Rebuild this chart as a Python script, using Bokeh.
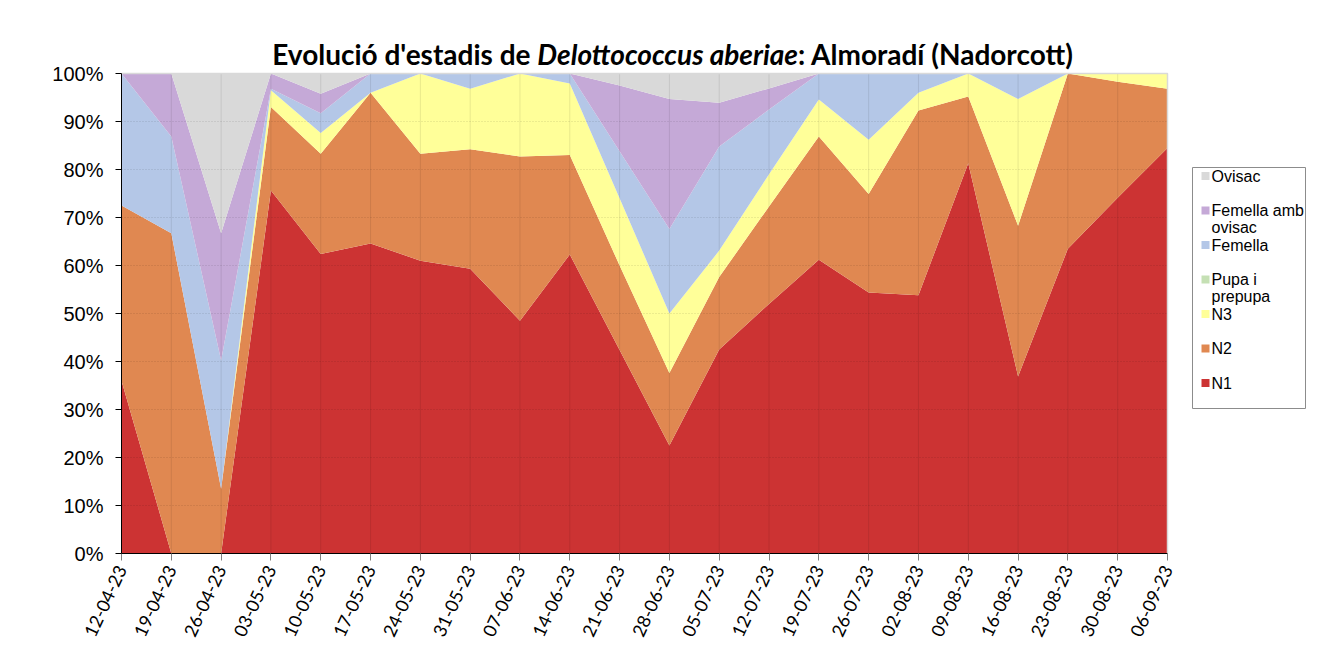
import glob
import math
from bokeh.plotting import figure
from bokeh.models import ColumnDataSource, Range1d, FixedTicker, Label
from bokeh.embed import file_html
from bokeh.resources import INLINE

# ---------------- data ----------------
dates = ["12-04-23", "19-04-23", "26-04-23", "03-05-23", "10-05-23", "17-05-23",
         "24-05-23", "31-05-23", "07-06-23", "14-06-23", "21-06-23", "28-06-23",
         "05-07-23", "12-07-23", "19-07-23", "26-07-23", "02-08-23", "09-08-23",
         "16-08-23", "23-08-23", "30-08-23", "06-09-23"]

n1 = [36.0, 0.0, 0.0, 75.6, 62.4, 64.6, 61.0, 59.3, 48.5, 62.3, 42.4, 22.5,
      42.5, 52.0, 61.2, 54.4, 53.8, 81.3, 36.9, 63.5, 74.1, 84.5]
n2 = [36.5, 66.7, 13.5, 17.4, 20.9, 31.4, 22.3, 24.9, 34.2, 20.7, 17.6, 15.1,
      15.1, 20.3, 25.7, 20.5, 38.5, 13.9, 31.4, 36.5, 24.2, 12.3]
n3 = [0.0, 0.0, 0.0, 3.5, 4.3, 0.0, 16.7, 12.6, 17.3, 14.9, 14.0, 12.4,
      5.5, 6.7, 7.7, 11.3, 3.7, 4.8, 26.4, 0.0, 1.7, 3.2]
pupa = [0.0] * 22
femella = [27.5, 20.2, 26.7, 0.3, 4.1, 4.0, 0.0, 3.2, 0.0, 2.1, 9.8, 17.6,
           21.7, 13.5, 5.4, 13.8, 4.0, 0.0, 5.3, 0.0, 0.0, 0.0]
femella_ovisac = [0.0, 13.1, 26.5, 3.2, 4.1, 0.0, 0.0, 0.0, 0.0, 0.0, 13.7, 27.1,
                  9.1, 4.4, 0.0, 0.0, 0.0, 0.0, 0.0, 0.0, 0.0, 0.0]
ovisac = [0.0, 0.0, 33.3, 0.0, 4.2, 0.0, 0.0, 0.0, 0.0, 0.0, 2.5, 5.3,
          6.1, 3.1, 0.0, 0.0, 0.0, 0.0, 0.0, 0.0, 0.0, 0.0]

series_keys = ["n1", "n2", "n3", "pupa", "femella", "femella_ovisac", "ovisac"]
series_labels = ["N1", "N2", "N3", "Pupa i\nprepupa", "Femella", "Femella amb\novisac", "Ovisac"]
series_colors = ["#cc3333", "#e08851", "#ffff99", "#c5e0b4", "#b4c7e7", "#c5a9d7", "#d9d9d9"]

y_ticks = [0, 10, 20, 30, 40, 50, 60, 70, 80, 90, 100]
y_tick_labels = ["0%", "10%", "20%", "30%", "40%", "50%", "60%", "70%", "80%", "90%", "100%"]

title_parts = [("Evolució d'estadis de ", "bold"),
               ("Delottococcus aberiae", "bold italic"),
               (": Almoradí (Nadorcott)", "bold")]

# ---------------- geometry (pixels) ----------------
W, H = 1306, 645
FR_L, FR_T, FR_R, FR_B = 121, 73, 1167, 553   # where the data area sits
n = len(dates)
XS = (FR_R - FR_L) / (n - 1)      # px per category step
YS = (FR_B - FR_T) / 100.0        # px per percent
X_END = (n - 1) + (W - FR_R) / XS  # frame extends right, to hold the legend
Y_END = 100 + FR_T / YS            # frame extends up, to hold the title


def dx(px):
    return (px - FR_L) / XS


def dy(py):
    return (FR_B - py) / YS


idx = list(range(n))
src = ColumnDataSource(dict(x=idx, n1=n1, n2=n2, n3=n3, pupa=pupa, femella=femella,
                            femella_ovisac=femella_ovisac, ovisac=ovisac))

p = figure(width=W, height=H, x_range=Range1d(0, X_END), y_range=Range1d(0, Y_END),
           output_backend="svg", toolbar_location=None, title=None,
           min_border_left=FR_L, min_border_right=0, min_border_top=0,
           min_border_bottom=H - FR_B)
p.background_fill_color = "white"
p.border_fill_color = "white"
p.outline_line_color = None
p.xgrid.visible = False
p.ygrid.visible = False

p.varea_stack(stackers=series_keys, x="x", color=series_colors, source=src)

# grid lines drawn over the areas (faint), limited to the data area
p.segment(x0=idx, y0=[0] * n, x1=idx, y1=[100] * n, line_color="black", line_alpha=0.09, line_width=1)
p.segment(x0=[0] * len(y_ticks), y0=y_ticks, x1=[n - 1] * len(y_ticks), y1=y_ticks,
          line_color="black", line_alpha=0.15, line_width=1, line_dash="1 2")
# plot-area border (top and right)
p.line(x=[0, n - 1, n - 1], y=[100, 100, 0], line_color="#d9d9d9", line_width=1.5)

# axes
p.xaxis.bounds = (0, n - 1)
p.xaxis.ticker = FixedTicker(ticks=idx)
p.xaxis.major_label_overrides = {i: d for i, d in zip(idx, dates)}
p.xaxis.major_label_orientation = math.radians(65)
p.xaxis.major_label_text_font = "Lato"
p.xaxis.major_label_text_font_size = "18px"
p.xaxis.major_label_text_color = "black"
p.xaxis.axis_line_color = "black"
p.xaxis.major_tick_line_color = "#808080"
p.xaxis.major_tick_out = 7
p.xaxis.major_tick_in = 0
p.xaxis.minor_tick_line_color = None
p.xaxis.major_label_standoff = 6

p.yaxis.bounds = (0, 100)
p.yaxis.ticker = FixedTicker(ticks=y_ticks)
p.yaxis.major_label_overrides = {v: s for v, s in zip(y_ticks, y_tick_labels)}
p.yaxis.major_label_text_font = "Liberation Sans"
p.yaxis.major_label_text_font_size = "20px"
p.yaxis.major_label_text_color = "black"
p.yaxis.axis_line_color = "black"
p.yaxis.major_tick_line_color = "black"
p.yaxis.major_tick_out = 6
p.yaxis.major_tick_in = 0
p.yaxis.minor_tick_line_color = None
p.yaxis.major_label_standoff = 12

# ---------------- title (mixed bold / bold italic) ----------------
TITLE_SIZE = 28


def text_width(text, style):
    try:
        from PIL import ImageFont
        name = {"bold": "Lato-Bold", "bold italic": "Lato-BoldItalic"}[style]
        cands = glob.glob("/usr/share/fonts/**/%s.ttf" % name, recursive=True)
        if cands:
            f = ImageFont.truetype(cands[0], TITLE_SIZE)
            return f.getlength(text)
    except Exception:
        pass
    return len(text) * TITLE_SIZE * 0.56


widths = [text_width(t, s) for t, s in title_parts]
cur = 672 - sum(widths) / 2
for (t, s), w in zip(title_parts, widths):
    p.add_layout(Label(x=dx(cur), y=dy(53), text=t, text_font="Lato", text_font_style=s,
                       text_font_size="%dpx" % TITLE_SIZE, text_color="black",
                       text_align="left", text_baseline="alphabetic"))
    cur += w

# ---------------- legend (manual, in the frame's right margin) ----------------
p.quad(left=[dx(1192)], right=[dx(1305)], top=[dy(167)], bottom=[dy(408)],
       fill_color="white", line_color="#8c8c8c", line_width=1)

legend_order = list(range(len(series_keys)))[::-1]  # Ovisac at top
row_top = 175.5
row_step = 34.5
sq = 8
for r, i in enumerate(legend_order):
    cy = row_top + r * row_step
    p.quad(left=[dx(1201)], right=[dx(1201 + sq)], top=[dy(cy - sq / 2)], bottom=[dy(cy + sq / 2)],
           fill_color=series_colors[i], line_color=None)
    for k, line in enumerate(series_labels[i].split("\n")):
        p.add_layout(Label(x=dx(1211), y=dy(cy + k * 17), text=line, text_font="Liberation Sans",
                           text_font_size="16px", text_color="black",
                           text_align="left", text_baseline="middle"))

open("out.html", "w").write(file_html(p, INLINE))
